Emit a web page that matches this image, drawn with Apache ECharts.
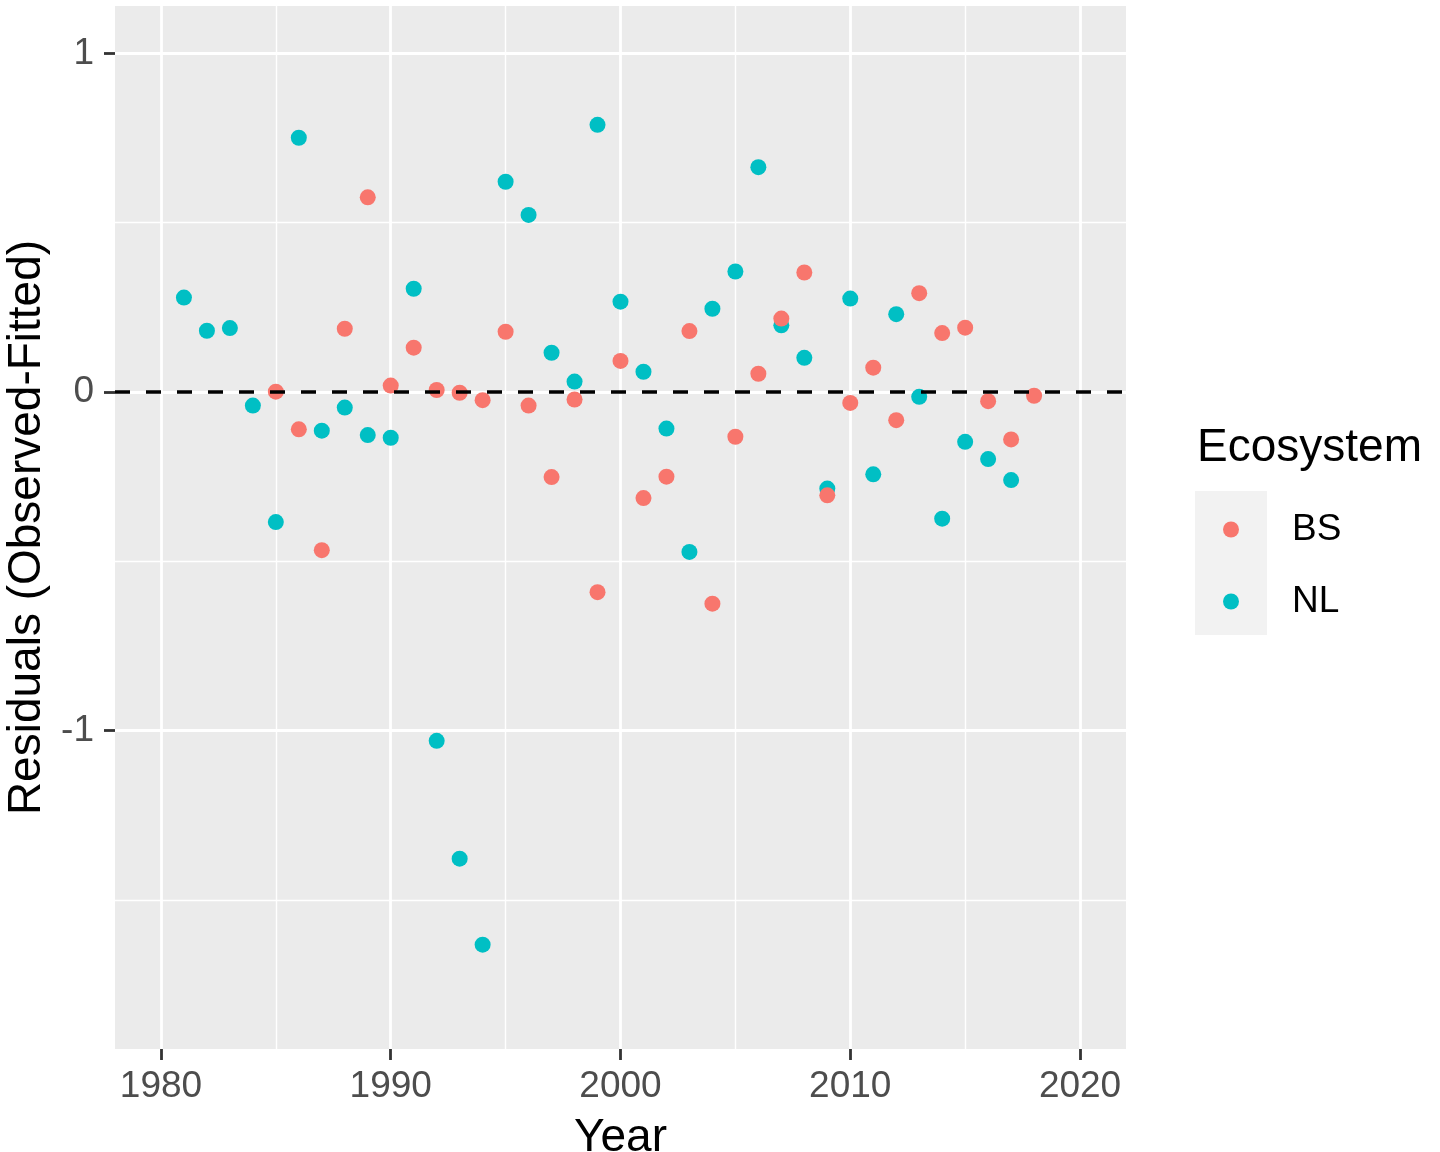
<!DOCTYPE html>
<html>
<head>
<meta charset="utf-8">
<script src="https://cdn.jsdelivr.net/npm/echarts@6/dist/echarts.min.js"></script>
<style>
  html, body { margin: 0; padding: 0; background: #fff; }
  #chart { width: 1440px; height: 1152px; }
</style>
</head>
<body>
<div id="chart"></div>
<script>
// residuals per ecosystem
var bsYears = [1985, 1986, 1987, 1988, 1989, 1990, 1991, 1992, 1993, 1994, 1995, 1996,
  1997, 1998, 1999, 2000, 2001, 2002, 2003, 2004, 2005, 2006, 2007, 2008, 2009, 2010,
  2011, 2012, 2013, 2014, 2015, 2016, 2017, 2018];
var bsResid = [0.001, -0.110, -0.467, 0.187, 0.575, 0.019, 0.131, 0.006, -0.002, -0.024,
  0.178, -0.040, -0.251, -0.022, -0.591, 0.092, -0.313, -0.250, 0.180, -0.625, -0.132,
  0.054, 0.217, 0.353, -0.305, -0.032, 0.072, -0.083, 0.292, 0.174, 0.190, -0.027,
  -0.140, -0.011];

var nlYears = [1981, 1982, 1983, 1984, 1985, 1986, 1987, 1988, 1989, 1990, 1991, 1992,
  1993, 1994, 1995, 1996, 1997, 1998, 1999, 2000, 2001, 2002, 2003, 2004, 2005, 2006,
  2007, 2008, 2009, 2010, 2011, 2012, 2013, 2014, 2015, 2016, 2017];
var nlResid = [0.279, 0.181, 0.189, -0.040, -0.384, 0.751, -0.114, -0.046, -0.127, -0.135,
  0.305, -1.030, -1.378, -1.632, 0.621, 0.523, 0.116, 0.031, 0.789, 0.267, 0.060, -0.108,
  -0.472, 0.246, 0.356, 0.664, 0.197, 0.101, -0.285, 0.276, -0.243, 0.230, -0.014,
  -0.374, -0.147, -0.198, -0.260];

// breaks
var xMajor = [1980, 1990, 2000, 2010, 2020];
var xMinor = [1985, 1995, 2005, 2015];
var yMajor = [-1, 0, 1];
var yMinor = [-1.5, -0.5, 0.5];

var FONT = '"Liberation Sans", Arial, sans-serif';
var BS_COL = '#F8766D';
var NL_COL = '#00BFC4';

function pairs(xs, ys) {
  return xs.map(function (x, i) { return [x, ys[i]]; });
}

var chart = echarts.init(document.getElementById('chart'));

var noLine = { show: false, onZero: false };

var option = {
  backgroundColor: '#ffffff',
  animation: false,
  textStyle: { fontFamily: FONT },
  grid: {
    left: 115, top: 6, width: 1011, height: 1043,
    outerBoundsMode: 'none', containLabel: false,
    show: true, backgroundColor: '#EBEBEB', borderWidth: 0
  },
  title: {
    text: 'Ecosystem',
    left: 1197, top: 425, padding: 0,
    textStyle: { fontFamily: FONT, fontSize: 46, fontWeight: 'normal', color: '#000' }
  },
  graphic: [{
    type: 'rect', left: 1195, top: 491, z: -1,
    shape: { width: 72, height: 144 },
    style: { fill: '#F2F2F2' }
  }],
  legend: {
    data: ['BS', 'NL'],
    orient: 'vertical',
    left: 1223, top: 511, padding: 0,
    itemWidth: 16, itemHeight: 16, itemGap: 35,
    icon: 'circle',
    textStyle: { fontFamily: FONT, fontSize: 37, color: '#000', lineHeight: 37, padding: [0, 0, 0, 48] }
  },
  xAxis: [{
    type: 'value', gridIndex: 0, min: 1978, max: 2022,
    name: 'Year', nameLocation: 'middle', nameGap: 66,
    nameTextStyle: { fontFamily: FONT, fontSize: 46, color: '#000' },
    axisLine: noLine,
    axisTick: { show: true, length: 11, lineStyle: { color: '#333333', width: 2.8 }, customValues: xMajor },
    axisLabel: {
      fontFamily: FONT, fontSize: 37, color: '#4D4D4D', margin: 19, customValues: xMajor,
      formatter: function (v) { return String(v); }
    },
    splitLine: { show: true, lineStyle: { color: '#ffffff', width: 2.8 } }
  }, {
    type: 'value', gridIndex: 0, min: 1978, max: 2022, position: 'bottom',
    axisLine: noLine, axisLabel: { show: false },
    axisTick: { show: false, customValues: xMinor },
    splitLine: { show: true, lineStyle: { color: '#ffffff', width: 1.4 } }
  }],
  yAxis: [{
    type: 'value', gridIndex: 0, min: -1.94, max: 1.14,
    name: 'Residuals (Observed-Fitted)', nameLocation: 'middle', nameGap: 62,
    nameTextStyle: { fontFamily: FONT, fontSize: 46, color: '#000' },
    axisLine: noLine,
    axisTick: { show: true, length: 11, lineStyle: { color: '#333333', width: 2.8 }, customValues: yMajor },
    axisLabel: {
      fontFamily: FONT, fontSize: 37, color: '#4D4D4D', margin: 21, customValues: yMajor,
      formatter: function (v) { return String(v); }
    },
    splitLine: { show: true, lineStyle: { color: '#ffffff', width: 2.8 } }
  }, {
    type: 'value', gridIndex: 0, min: -1.94, max: 1.14, position: 'left',
    axisLine: noLine, axisLabel: { show: false },
    axisTick: { show: false, customValues: yMinor },
    splitLine: { show: true, lineStyle: { color: '#ffffff', width: 1.4 } }
  }],
  series: [{
    name: 'NL',
    type: 'scatter',
    xAxisIndex: 0, yAxisIndex: 0,
    symbol: 'circle', symbolSize: 16,
    itemStyle: { color: NL_COL, opacity: 1 },
    data: pairs(nlYears, nlResid)
  }, {
    name: 'BS',
    type: 'scatter',
    xAxisIndex: 0, yAxisIndex: 0,
    symbol: 'circle', symbolSize: 16,
    itemStyle: { color: BS_COL, opacity: 1 },
    data: pairs(bsYears, bsResid),
    markLine: {
      silent: true,
      symbol: 'none',
      label: { show: false },
      lineStyle: { color: '#000000', width: 3.6, type: [15, 16] },
      data: [{ yAxis: 0 }]
    }
  }]
};

chart.setOption(option);
</script>
</body>
</html>
